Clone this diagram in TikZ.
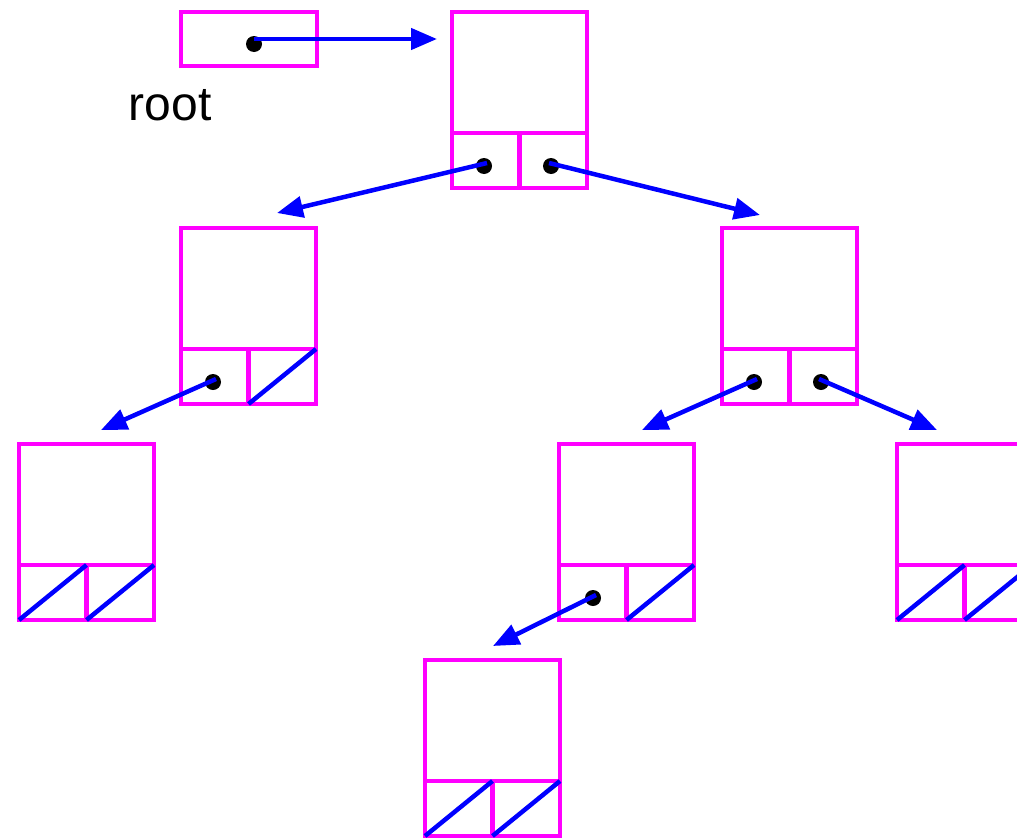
\documentclass[tikz,border=0pt]{standalone}
\usepackage{fontspec}
\setmainfont{Liberation Sans}
\usetikzlibrary{arrows.meta,calc}
\definecolor{mag}{RGB}{255,0,255}
\definecolor{ptrblue}{RGB}{0,0,255}
\tikzset{
  datacell/.style={draw=mag,line width=4.5pt,minimum width=135pt,minimum height=121pt,inner sep=0pt,outer sep=0pt},
  ptrcell/.style={draw=mag,line width=4.5pt,minimum width=67.5pt,minimum height=55pt,inner sep=0pt,outer sep=0pt},
  rootbox/.style={draw=mag,line width=4.5pt,minimum width=136pt,minimum height=54pt,inner sep=0pt,outer sep=0pt},
  ptrdot/.style={circle,fill=black,minimum size=16pt,inner sep=0pt},
  ptr/.style={draw=ptrblue,line width=4.5pt,-{Triangle[length=26pt,width=21pt]}},
  nullptr/.style={draw=ptrblue,line width=4.5pt}
}
\newcommand{\mkTreeNode}[3]{%
  \node[datacell] (#1) at (#2+67.5,#3+60.5) {};
  \node[ptrcell] (#1l) at (#2+33.75,#3+148.5) {};
  \node[ptrcell] (#1r) at (#2+101.25,#3+148.5) {};
}
\begin{document}
\begin{tikzpicture}[x=1pt,y=-1pt]
\useasboundingbox (0,0) rectangle (1017,838);
\clip (0,0) rectangle (1017,838);
% root pointer
\node[rootbox] (root) at (249,39) {};
\node[font=\fontsize{48}{48}\selectfont,inner sep=0pt] (rootlabel) at (170,105) {root};
% tree nodes
\mkTreeNode{A}{452}{12}
\mkTreeNode{B}{181}{228}
\mkTreeNode{C}{722}{228}
\mkTreeNode{D}{19}{444}
\mkTreeNode{E}{559}{444}
\mkTreeNode{F}{897}{444}
\mkTreeNode{G}{425}{660}
% dots
\node[ptrdot] (droot) at (254,44) {};
\node[ptrdot] (dAl) at (484,166) {};
\node[ptrdot] (dAr) at (551,166) {};
\node[ptrdot] (dBl) at (213,382) {};
\node[ptrdot] (dCl) at (754,382) {};
\node[ptrdot] (dCr) at (821,382) {};
\node[ptrdot] (dEl) at (593,598) {};
% arrow targets
\coordinate (tA) at (437,39);
\coordinate (tB) at (277,213);
\coordinate (tC) at (760,215);
\coordinate (tD) at (101,430);
\coordinate (tE) at (642,430);
\coordinate (tF) at (937,430);
\coordinate (tG) at (493,646);
% pointers
\draw[ptr] ([yshift=5pt]droot.center) -- (tA);
\draw[ptr] ([xshift=3pt,yshift=3pt]dAl.center) -- (tB);
\draw[ptr] ([xshift=-2pt,yshift=3pt]dAr.center) -- (tC);
\draw[ptr] ([xshift=3pt,yshift=3pt]dBl.center) -- (tD);
\draw[ptr] ([xshift=3pt,yshift=3pt]dCl.center) -- (tE);
\draw[ptr] ([xshift=-2pt,yshift=3pt]dCr.center) -- (tF);
\draw[ptr] ([xshift=3pt,yshift=3pt]dEl.center) -- (tG);
% null pointers
\foreach \c in {Br,Dl,Dr,Er,Fl,Fr,Gl,Gr}{
  \draw[nullptr] (\c.south west) -- (\c.north east);
}
\end{tikzpicture}
\end{document}
